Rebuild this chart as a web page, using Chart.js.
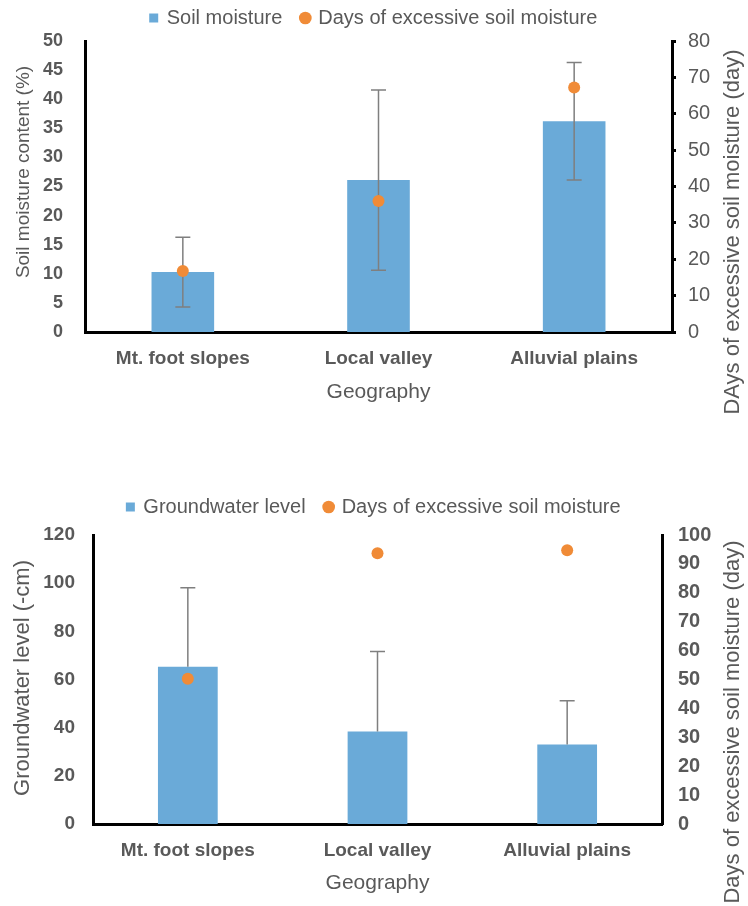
<!DOCTYPE html>
<html>
<head>
<meta charset="utf-8">
<script src="https://cdn.jsdelivr.net/npm/chart.js@4.4.0/dist/chart.umd.min.js"></script>
<style>
  html, body { margin: 0; padding: 0; background: #fff; overflow: hidden; }
  .box { position: absolute; left: 0; width: 748px; }
  #topBox { top: -12px; height: 452px; }
  #bottomBox { top: 440px; height: 466px; }
</style>
</head>
<body>
<div class="box" id="topBox"><canvas id="moistureChart"></canvas></div>
<div class="box" id="bottomBox"><canvas id="groundwaterChart"></canvas></div>
<script>
// values
const categories = ['Mt. foot slopes', 'Local valley', 'Alluvial plains'];

const soilMoisture = [10.3, 26.1, 36.2];
const soilMoistureErr = [6.0, 15.5, 10.1];
const daysTop = [16.8, 36, 67.2];

const groundwater = [65.3, 38.4, 33.0];
const groundwaterErrUp = [32.8, 33.2, 18.2];
const groundwaterErrDown = [0, 0, 0];
const daysBottom = [50.3, 93.7, 94.7];

const topLeftTicks = { min: 0, max: 50, step: 5 };
const topRightTicks = { min: 0, max: 80, step: 10 };
const bottomLeftTicks = { min: 0, max: 120, step: 20 };
const bottomRightTicks = { min: 0, max: 100, step: 10 };

const grey = '#595959';
const barBlue = '#6aaad8';
const dotOrange = '#f08b37';

Chart.defaults.font.family = '"Liberation Sans", Arial, sans-serif';
Chart.defaults.color = grey;

// error bars drawn right after the bar dataset, so the dots sit on top
const errorBars = {
  id: 'errorBars',
  afterDatasetDraw(chart, args, opts) {
    if (args.index !== 0) return;
    const meta = args.meta;
    const yScale = chart.scales[meta.yAxisID];
    const values = chart.data.datasets[0].data;
    const ctx = chart.ctx;
    ctx.save();
    ctx.strokeStyle = '#7f7f7f';
    ctx.lineWidth = 1.5;
    meta.data.forEach((bar, i) => {
      const v = values[i];
      const yTop = yScale.getPixelForValue(v + opts.plus[i]);
      const yBot = yScale.getPixelForValue(v - opts.minus[i]);
      ctx.beginPath();
      ctx.moveTo(bar.x, yTop);
      ctx.lineTo(bar.x, yBot);
      ctx.moveTo(bar.x - 7.5, yTop);
      ctx.lineTo(bar.x + 7.5, yTop);
      if (opts.minus[i] > 0) {
        ctx.moveTo(bar.x - 7.5, yBot);
        ctx.lineTo(bar.x + 7.5, yBot);
      }
      ctx.stroke();
    });
    ctx.restore();
  }
};

// axis titles, both read bottom-to-top
const sideTitles = {
  id: 'sideTitles',
  afterDraw(chart, args, opts) {
    const ctx = chart.ctx;
    opts.items.forEach(t => {
      ctx.save();
      ctx.translate(t.x, t.y);
      ctx.rotate(-Math.PI / 2);
      ctx.font = t.size + 'px "Liberation Sans", Arial, sans-serif';
      ctx.fillStyle = grey;
      ctx.textAlign = 'center';
      ctx.textBaseline = 'middle';
      ctx.fillText(t.text, 0, 0);
      ctx.restore();
    });
  }
};

function legendHeight(h) {
  return {
    id: 'legendHeight',
    beforeLayout(chart) {
      const lg = chart.legend;
      if (lg && !lg._patched) {
        const fit = lg.fit;
        lg.fit = function () { fit.call(this); this.height = h; };
        lg._patched = true;
      }
    }
  };
}

function makeChart(canvasId, cfg) {
  return new Chart(document.getElementById(canvasId).getContext('2d'), {
    type: 'bar',
    data: {
      labels: categories,
      datasets: [
        {
          label: cfg.barLabel,
          data: cfg.bars,
          backgroundColor: barBlue,
          borderWidth: 0,
          pointStyle: 'rect',
          yAxisID: 'y',
          categoryPercentage: 1,
          barPercentage: cfg.barPct,
          order: 1
        },
        {
          type: 'line',
          label: 'Days of excessive soil moisture',
          data: cfg.days,
          showLine: false,
          pointStyle: 'circle',
          pointRadius: 6,
          pointHoverRadius: 6,
          pointBackgroundColor: dotOrange,
          pointBorderWidth: 0,
          borderColor: dotOrange,
          backgroundColor: dotOrange,
          yAxisID: 'y1',
          order: 0
        }
      ]
    },
    options: {
      responsive: true,
      maintainAspectRatio: false,
      animation: false,
      layout: { padding: { top: cfg.padTop, left: 0, right: 0, bottom: 0 } },
      plugins: {
        legend: {
          position: 'top',
          labels: {
            usePointStyle: true,
            boxWidth: 6,
            boxHeight: 9,
            padding: 20,
            color: grey,
            font: { size: 20 },
            sort: (a, b) => a.datasetIndex - b.datasetIndex
          }
        },
        tooltip: { enabled: false },
        errorBars: { plus: cfg.errUp, minus: cfg.errDown },
        sideTitles: { items: cfg.titles }
      },
      scales: {
        x: {
          grid: { display: false, drawTicks: false },
          border: { color: '#000', width: 3 },
          ticks: { color: grey, font: { size: 19, weight: 'bold' }, padding: 15 },
          title: {
            display: true, text: 'Geography', color: grey,
            font: { size: 21 }, padding: { top: 0, bottom: cfg.xTitlePad }
          },
          afterFit: s => { s.height = cfg.xHeight; }
        },
        y: {
          position: 'left',
          min: cfg.left.min, max: cfg.left.max,
          grid: { display: false, drawTicks: false },
          border: { color: '#000', width: 3 },
          ticks: { stepSize: cfg.left.step, color: grey, font: { size: cfg.leftTickSize, weight: 'bold' }, padding: cfg.leftPad },
          afterFit: s => { s.width = cfg.leftWidth; }
        },
        y1: {
          position: 'right',
          min: cfg.right.min, max: cfg.right.max,
          grid: cfg.rightGrid,
          border: { color: '#000', width: 3 },
          ticks: { stepSize: cfg.right.step, color: grey, font: { size: 20, weight: cfg.rightWeight }, padding: cfg.rightPad },
          afterFit: s => { s.width = cfg.rightWidth; }
        }
      }
    },
    plugins: [errorBars, sideTitles, legendHeight(cfg.legendH)]
  });
}

makeChart('moistureChart', {
  barLabel: 'Soil moisture',
  bars: soilMoisture,
  errUp: soilMoistureErr,
  errDown: soilMoistureErr,
  days: daysTop,
  barPct: 0.32,
  padTop: 0,
  legendH: 53,
  xHeight: 108,
  xTitlePad: 35,
  left: topLeftTicks,
  leftTickSize: 18,
  leftPad: 22,
  leftWidth: 85,
  right: topRightTicks,
  rightGrid: { display: true, drawOnChartArea: false, drawTicks: true, tickLength: 4, tickWidth: 3, tickColor: '#000', color: '#000', lineWidth: 3 },
  rightWeight: 'normal',
  rightPad: 12,
  rightWidth: 76,
  titles: [
    { text: 'Soil moisture content (%)', x: 24, y: 184, size: 19 },
    { text: 'DAys of excessive soil moisture (day)', x: 733, y: 244, size: 22 }
  ]
});

makeChart('groundwaterChart', {
  barLabel: 'Groundwater level',
  bars: groundwater,
  errUp: groundwaterErrUp,
  errDown: groundwaterErrDown,
  days: daysBottom,
  barPct: 0.315,
  padTop: 37,
  legendH: 58,
  xHeight: 82,
  xTitlePad: 10,
  left: bottomLeftTicks,
  leftTickSize: 19,
  leftPad: 18,
  leftWidth: 93,
  right: bottomRightTicks,
  rightGrid: { display: false, drawTicks: false },
  rightWeight: 'bold',
  rightPad: 16,
  rightWidth: 86,
  titles: [
    { text: 'Groundwater level (-cm)', x: 23, y: 238, size: 22 },
    { text: 'Days of excessive soil moisture (day)', x: 733, y: 282, size: 22 }
  ]
});
</script>
</body>
</html>
